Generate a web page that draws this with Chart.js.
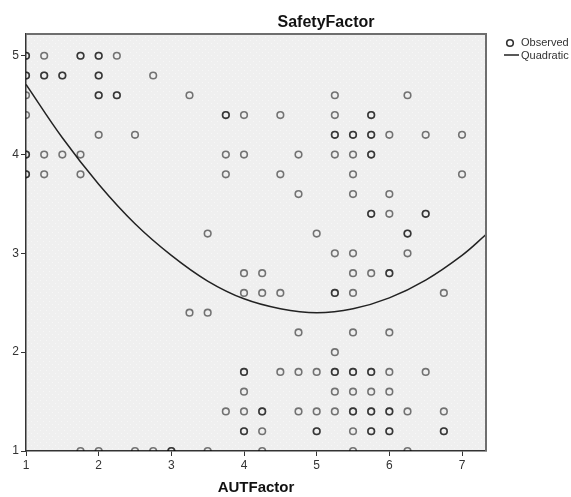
<!DOCTYPE html>
<html>
<head>
<meta charset="utf-8">
<title>SafetyFactor</title>
<script src="https://cdn.jsdelivr.net/npm/chart.js@4.4.1/dist/chart.umd.min.js"></script>
<style>
  html, body { margin: 0; padding: 0; background: #fff; }
  canvas { display: block; }
</style>
</head>
<body>
<canvas id="grafica" width="571" height="497"></canvas>
<script>
// --- DATOS ---
// valores de SafetyFactor (una fila de puntos por nivel)
const safetyLevels = [5.0, 4.8, 4.6, 4.4, 4.2, 4.0, 3.8, 3.6, 3.4, 3.2, 3.0,
                      2.8, 2.6, 2.4, 2.2, 2.0, 1.8, 1.6, 1.4, 1.2, 1.0];

// AUTFactor observados en cada nivel (repetidos = casos que se solapan)
const autAtLevel = [
    [1, 1, 1.25, 1.75, 1.75, 2, 2, 2.25],
    [1, 1, 1.25, 1.25, 1.5, 1.5, 2, 2, 2.75],
    [1, 2, 2, 2.25, 2.25, 3.25, 5.25, 6.25],
    [1, 3.75, 3.75, 4, 4.5, 5.25, 5.75, 5.75],
    [2, 2.5, 5.25, 5.25, 5.5, 5.5, 5.75, 5.75, 6, 6.5, 7],
    [1, 1, 1.25, 1.5, 1.75, 3.75, 4, 4.75, 5.25, 5.5, 5.75, 5.75],
    [1, 1, 1.25, 1.75, 3.75, 4.5, 5.5, 7],
    [4.75, 5.5, 6],
    [5.75, 5.75, 6, 6.5, 6.5],
    [3.5, 5, 6.25, 6.25],
    [5.25, 5.5, 6.25],
    [4, 4.25, 5.5, 5.75, 6, 6],
    [4, 4.25, 4.5, 5.25, 5.25, 5.5, 6.75],
    [3.25, 3.5],
    [4.75, 5.5, 6],
    [5.25],
    [4, 4, 4.5, 4.75, 5, 5.25, 5.25, 5.5, 5.5, 5.75, 5.75, 6, 6.5],
    [4, 5.25, 5.5, 5.75, 6],
    [3.75, 4, 4.25, 4.25, 4.75, 5, 5.25, 5.5, 5.5, 5.75, 5.75, 6, 6, 6.25, 6.75],
    [4, 4, 4.25, 5, 5, 5.5, 5.75, 5.75, 6, 6, 6.75, 6.75],
    [1.75, 2, 2.5, 2.75, 3, 3, 3.5, 4.25, 5.5, 6.25]
];

// curva cuadrática ajustada
const fitX = [1, 1.5, 2, 2.5, 3, 3.5, 4, 4.5, 5, 5.5, 6, 6.5, 7, 7.33];
const fitY = [4.71, 4.17, 3.70, 3.30, 2.98, 2.72, 2.54, 2.44, 2.40, 2.44, 2.55, 2.73, 2.98, 3.19];

// ejes
const xTicks = [1, 2, 3, 4, 5, 6, 7];
const yTicks = [1, 2, 3, 4, 5];
const xRange = [1, 7.33];
const yRange = [1, 5.22];

const FUENTE = "'Liberation Sans', Arial, sans-serif";

// --- PUNTOS ---
const observados = [];
safetyLevels.forEach((nivel, i) => {
    autAtLevel[i].forEach(aut => observados.push({ x: aut, y: nivel }));
});
const curva = fitX.map((x, i) => ({ x: x, y: fitY[i] }));

// fondo punteado del área de la gráfica
function crearPatron(ctx) {
    const c = document.createElement('canvas');
    c.width = 6; c.height = 6;
    const g = c.getContext('2d');
    g.fillStyle = '#efefef';
    g.fillRect(0, 0, 6, 6);
    g.fillStyle = '#f7f7f7';
    g.fillRect(1, 1, 1, 1);
    g.fillRect(4, 4, 1, 1);
    return ctx.createPattern(c, 'repeat');
}

const decoracion = {
    id: 'decoracion',
    beforeDraw(chart) {
        const { ctx, chartArea: a } = chart;
        ctx.save();
        ctx.fillStyle = crearPatron(ctx);
        ctx.fillRect(a.left, a.top, a.right - a.left, a.bottom - a.top);
        ctx.restore();
    },
    afterDraw(chart) {
        const { ctx, chartArea: a } = chart;
        ctx.save();
        // borde superior y derecho
        ctx.strokeStyle = '#6e6e6e';
        ctx.lineWidth = 2;
        ctx.beginPath();
        ctx.moveTo(a.left, a.top);
        ctx.lineTo(a.right, a.top);
        ctx.lineTo(a.right, a.bottom);
        ctx.stroke();

        // títulos
        ctx.fillStyle = '#111';
        ctx.textAlign = 'center';
        ctx.textBaseline = 'middle';
        ctx.font = 'bold 16px ' + FUENTE;
        ctx.fillText('SafetyFactor', 326, 23);
        ctx.font = 'bold 15px ' + FUENTE;
        ctx.fillText('AUTFactor', (a.left + a.right) / 2, 488);

        // leyenda
        const obs = chart.data.datasets[0];
        const quad = chart.data.datasets[1];
        ctx.strokeStyle = '#333';
        ctx.lineWidth = obs.borderWidth;
        ctx.beginPath();
        ctx.arc(510, 43, obs.pointRadius, 0, Math.PI * 2);
        ctx.stroke();
        ctx.strokeStyle = quad.borderColor;
        ctx.lineWidth = quad.borderWidth;
        ctx.beginPath();
        ctx.moveTo(504, 55);
        ctx.lineTo(519, 55);
        ctx.stroke();
        ctx.fillStyle = '#333';
        ctx.textAlign = 'left';
        ctx.font = '11px ' + FUENTE;
        ctx.fillText('Observed', 521, 43);
        ctx.fillText('Quadratic', 521, 56);
        ctx.restore();
    }
};

function ejeLineal(rango, ticks, ajuste) {
    return {
        type: 'linear',
        min: rango[0],
        max: rango[1],
        afterBuildTicks: s => { s.ticks = ticks.map(v => ({ value: v })); },
        afterFit: ajuste,
        ticks: { color: '#333', font: { family: FUENTE, size: 12 }, padding: 2 },
        grid: { drawOnChartArea: false, drawTicks: true, tickLength: 5, color: '#333', tickWidth: 1 },
        border: { display: true, color: '#333', width: 1.5 }
    };
}

new Chart(document.getElementById('grafica'), {
    type: 'scatter',
    data: {
        datasets: [{
            label: 'Observed',
            data: observados,
            pointStyle: 'circle',
            pointRadius: 3.3,
            pointHoverRadius: 3.3,
            borderWidth: 1.6,
            borderColor: 'rgba(0, 0, 0, 0.52)',
            backgroundColor: 'rgba(0, 0, 0, 0)',
            clip: 0
        }, {
            type: 'line',
            label: 'Quadratic',
            data: curva,
            borderColor: '#222',
            borderWidth: 1.5,
            pointRadius: 0,
            tension: 0.4,
            fill: false,
            clip: 0
        }]
    },
    options: {
        responsive: false,
        devicePixelRatio: 1,
        animation: false,
        layout: { padding: { top: 34, right: 85, left: 0, bottom: 0 } },
        plugins: {
            legend: { display: false },
            tooltip: { enabled: false },
            title: { display: false }
        },
        scales: {
            x: ejeLineal(xRange, xTicks, s => { s.height = 46; }),
            y: ejeLineal(yRange, yTicks, s => { s.width = 26; })
        }
    },
    plugins: [decoracion]
});
</script>
</body>
</html>
